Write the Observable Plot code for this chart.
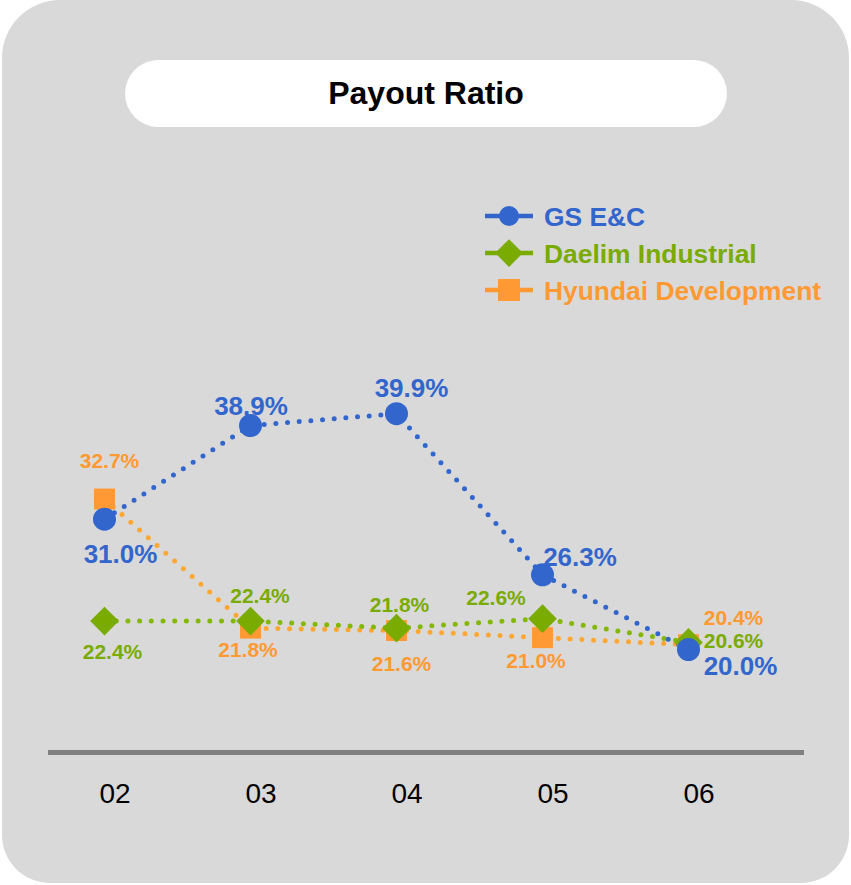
<!DOCTYPE html>
<html><head><meta charset="utf-8">
<script src="https://cdn.jsdelivr.net/npm/d3@7"></script>
<script src="https://cdn.jsdelivr.net/npm/@observablehq/plot@0.6"></script>
<style>
html,body{margin:0;padding:0;background:#fff;}
body{width:851px;height:885px;position:relative;overflow:hidden;font-family:"Liberation Sans",Arial,Helvetica,sans-serif;}
#panel{position:absolute;left:2px;top:0;width:847px;height:883px;background:#d9d9d9;border-radius:58px 58px 48px 48px;}
#title{position:absolute;left:125px;top:60px;width:602px;height:67px;border-radius:34px;background:#fff;display:flex;align-items:center;justify-content:center;font-weight:bold;font-size:32px;color:#000;}
#chart{position:absolute;left:0;top:0;}
#legend{position:absolute;left:0;top:0;}
</style></head>
<body>
<div id="panel"></div>
<div id="title">Payout Ratio</div>
<div id="chart"></div>
<div id="legend"></div>
<script>
// ---- data ----
const years = ["02", "03", "04", "05", "06"];
const seriesNames = ["GS E&C", "Daelim Industrial", "Hyundai Development"];
const gsEC = [31.0, 38.9, 39.9, 26.3, 20.0];
const daelim = [22.4, 22.4, 21.8, 22.6, 20.6];
const hyundai = [32.7, 21.8, 21.6, 21.0, 20.4];

// ---- styles ----
const seriesValues = [gsEC, daelim, hyundai];
const colors = ["#3366cc", "#7aab00", "#ff9933"];
const lineColors = ["#3366cc", "#84b800", "#ffa733"];
const symbols = ["circle", "diamond2", "square"];
const symR = [11.5, 12.9, 11.8];
const labelSize = [26, 21, 21];
// label offsets in px (layout), per series per year
const labelOffsets = [
  [[16, 36], [0.5, -19], [15, -25], [37.5, -17], [52, 17]],
  [[8, 31], [9.5, -25], [3, -23], [-46.5, -20], [45, -1]],
  [[5, -38], [-2.5, 22], [5, 34], [-6.5, 24], [45, -26]]
];

const rows = [];
seriesNames.forEach((name, i) => years.forEach((yr, j) => rows.push({series: name, s: i, year: yr, j, value: seriesValues[i][j]})));

const marks = [
  Plot.frame({anchor: "bottom", stroke: "#808080", strokeWidth: 5}),
  Plot.axisX({tickSize: 0, tickPadding: 31, fontSize: 28, dx: 10.5, label: null})
];
const order = [2, 1, 0];
for (const i of order) {
  marks.push(Plot.line(rows.filter(d => d.s === i), {x: "year", y: "value", stroke: lineColors[i], strokeWidth: 5, strokeDasharray: "0 11.7", strokeLinecap: "round"}));
}
for (const i of order) {
  marks.push(Plot.dot(rows.filter(d => d.s === i), {x: "year", y: "value", symbol: symbols[i], r: symR[i], fill: colors[i], stroke: "none"}));
}
for (const i of order) {
  rows.filter(d => d.s === i).forEach(d => {
    const [dx, dy] = labelOffsets[i][d.j];
    marks.push(Plot.text([d], {x: "year", y: "value", text: v => v.value.toFixed(1) + "%", fill: colors[i], fontSize: labelSize[i], fontWeight: "bold", dx, dy}));
  });
}

const chart = Plot.plot({
  width: 851, height: 885,
  marginLeft: 50, marginRight: 50, marginTop: 0, marginBottom: 133,
  style: {background: "transparent", fontFamily: "'Liberation Sans', Arial, sans-serif", color: "#000"},
  x: {type: "point", domain: years, range: [103, 689], padding: 0, label: null},
  y: {domain: [0, 40], range: [886, 412], axis: null},
  marks
});
document.getElementById("chart").append(chart);

// ---- legend ----
const lg = d3.select("#legend").append("svg").attr("width", 851).attr("height", 330);
const rowY = [216, 253, 290];
seriesNames.forEach((name, i) => {
  const g = lg.append("g").attr("transform", `translate(0,${rowY[i]})`);
  g.append("line").attr("x1", 485).attr("x2", 533).attr("y1", 0).attr("y2", 0).attr("stroke", colors[i]).attr("stroke-width", 4.5);
  const sym = i === 0 ? d3.symbolCircle : i === 1 ? d3.symbolDiamond2 : d3.symbolSquare;
  const size = i === 0 ? Math.PI * 10 * 10 : i === 1 ? Math.PI * 12.5 * 12.5 : 22 * 22;
  g.append("path").attr("d", d3.symbol(sym, size)()).attr("transform", "translate(509,0)").attr("fill", colors[i]);
  g.append("text").attr("x", 544).attr("y", 0).attr("dy", "0.36em").attr("fill", colors[i])
    .attr("font-size", 26.4).attr("font-weight", "bold").attr("font-family", "'Liberation Sans', Arial, sans-serif").text(name);
});
</script>
</body></html>
